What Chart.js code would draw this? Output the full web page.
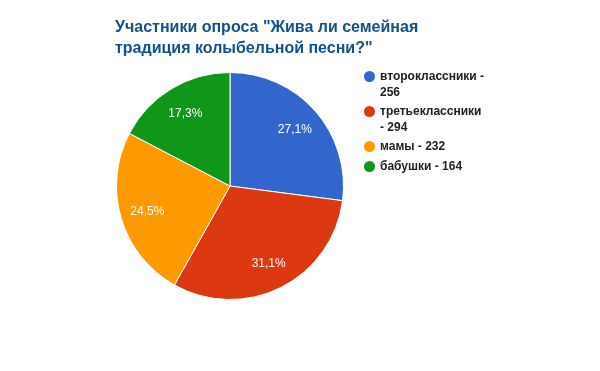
<!DOCTYPE html>
<html>
<head>
<meta charset="utf-8">
<script src="https://cdn.jsdelivr.net/npm/chart.js@4"></script>
<style>
  html, body { margin: 0; padding: 0; background: #fff; }
  #wrap { position: relative; width: 600px; height: 371px; }
  #title {
    position: absolute; left: 115px; top: 16px; white-space: nowrap;
    font: bold 16px "Liberation Sans", Arial, sans-serif;
    line-height: 21px; color: #13508f;
  }
  #legend { position: absolute; left: 364px; top: 69px; width: 124px; }
  .item {
    position: relative; padding-left: 16px; margin-bottom: 4px;
    font: bold 12px "Liberation Sans", Arial, sans-serif;
    line-height: 15.5px; color: #222;
  }
  .dot {
    position: absolute; left: 0; top: 2px; width: 11px; height: 11px;
    border-radius: 50%;
  }
</style>
</head>
<body>
<div id="wrap">
  <canvas id="pieChart" width="600" height="371"></canvas>
  <div id="title">Участники опроса "Жива ли семейная<br>традиция колыбельной песни?"</div>
  <div id="legend"></div>
</div>
<script>
// Données du sondage
const labels = ['второклассники', 'третьеклассники', 'мамы', 'бабушки'];
const values = [256, 294, 232, 164];
const colors = ['#3366cc', '#dc3912', '#ff9900', '#109618'];

function renderLegend() {
    const legend = document.getElementById('legend');
    legend.innerHTML = labels.map((label, i) => `
        <div class="item"><span class="dot" style="background:${colors[i]}"></span>${label} - ${values[i]}</div>
    `).join('');
}

// Étiquettes de pourcentage à l'intérieur des parts
const percentLabels = {
    id: 'percentLabels',
    afterDatasetsDraw(chart) {
        const ctx = chart.ctx;
        const meta = chart.getDatasetMeta(0);
        const total = values.reduce((a, b) => a + b, 0);
        ctx.save();
        ctx.font = '12px "Liberation Sans", Arial, sans-serif';
        ctx.fillStyle = '#fff';
        ctx.textAlign = 'center';
        ctx.textBaseline = 'middle';
        meta.data.forEach((arc, i) => {
            const mid = (arc.startAngle + arc.endAngle) / 2;
            const r = arc.outerRadius * 0.76;
            const x = arc.x + Math.cos(mid) * r;
            const y = arc.y + Math.sin(mid) * r + 1;
            const pct = (values[i] / total * 100).toFixed(1).replace('.', ',') + '%';
            ctx.fillText(pct, x, y);
        });
        ctx.restore();
    }
};

function renderPie() {
    const ctx = document.getElementById('pieChart').getContext('2d');
    new Chart(ctx, {
        type: 'pie',
        data: {
            labels: labels,
            datasets: [{
                data: values,
                backgroundColor: colors,
                borderColor: '#fff',
                borderWidth: 1,
            }]
        },
        options: {
            responsive: false,
            animation: false,
            layout: { padding: { left: 116, right: 256, top: 72, bottom: 71 } },
            plugins: {
                legend: { display: false },
                tooltip: { enabled: false }
            }
        },
        plugins: [percentLabels]
    });
}

renderLegend();
renderPie();
</script>
</body>
</html>
